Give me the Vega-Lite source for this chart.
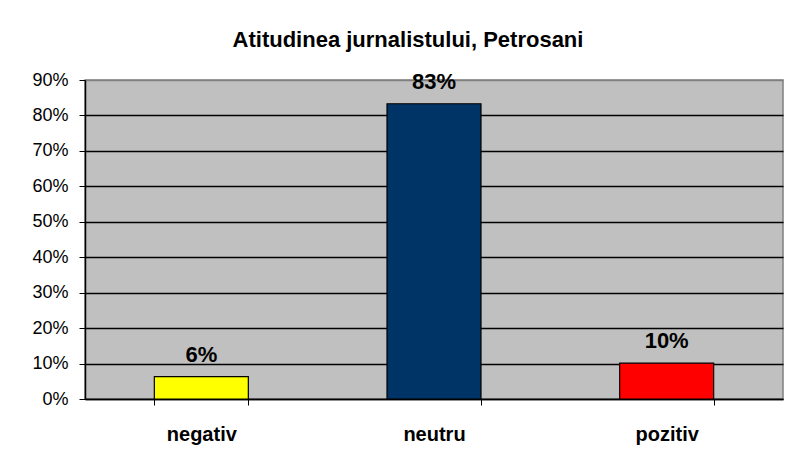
{
  "$schema": "https://vega.github.io/schema/vega-lite/v6.json",
  "autosize": {"type": "none"},
  "padding": {"left": 85, "top": 80, "right": 16, "bottom": 69},
  "width": 698,
  "height": 319,
  "background": "white",
  "title": {
    "text": "Atitudinea jurnalistului, Petrosani",
    "font": "Liberation Sans",
    "fontSize": 22,
    "fontWeight": "bold",
    "color": "black",
    "anchor": "middle",
    "dx": -26,
    "offset": 19
  },
  "data": {
    "values": [
      {"atitudine": "negativ", "procent": 0.063, "culoare": "#FFFF00"},
      {"atitudine": "neutru", "procent": 0.833, "culoare": "#003366"},
      {"atitudine": "pozitiv", "procent": 0.101, "culoare": "#FF0000"}
    ]
  },
  "encoding": {
    "x": {
      "field": "atitudine",
      "type": "nominal",
      "sort": null,
      "scale": {"paddingInner": 0.596, "paddingOuter": 0.298},
      "axis": {
        "title": null,
        "labelAngle": 0,
        "labelFont": "Liberation Sans",
        "labelFontSize": 20,
        "labelFontWeight": "bold",
        "labelColor": "black",
        "labelPadding": 19,
        "tickBand": "extent",
        "tickSize": 6,
        "tickColor": "black",
        "domainColor": "black",
        "domainWidth": 1.5,
        "grid": false
      }
    },
    "y": {
      "field": "procent",
      "type": "quantitative",
      "scale": {"domain": [0, 0.9], "nice": false},
      "axis": {
        "title": null,
        "format": ".0%",
        "values": [0, 0.1, 0.2, 0.3, 0.4, 0.5, 0.6, 0.7, 0.8, 0.9],
        "labelFont": "Liberation Sans",
        "labelFontSize": 18,
        "labelColor": "black",
        "labelPadding": 11,
        "tickSize": 6,
        "tickColor": "black",
        "domainColor": "black",
        "domainWidth": 1.5,
        "grid": true,
        "gridColor": {"condition": {"test": "datum.value >= 0.9", "value": "#808080"}, "value": "black"},
        "gridWidth": 1.4,
        "gridOpacity": 1
      }
    }
  },
  "layer": [
    {
      "mark": {"type": "bar", "stroke": "black", "strokeWidth": 1.2},
      "encoding": {
        "color": {"field": "culoare", "type": "nominal", "scale": null}
      }
    },
    {
      "mark": {
        "type": "text",
        "font": "Liberation Sans",
        "fontSize": 22,
        "fontWeight": "bold",
        "color": "black",
        "baseline": "middle",
        "dy": -22
      },
      "encoding": {
        "text": {"field": "procent", "type": "quantitative", "format": ".0%"}
      }
    }
  ],
  "config": {
    "view": {"fill": "#C0C0C0", "stroke": "#808080", "strokeWidth": 1.5}
  }
}
